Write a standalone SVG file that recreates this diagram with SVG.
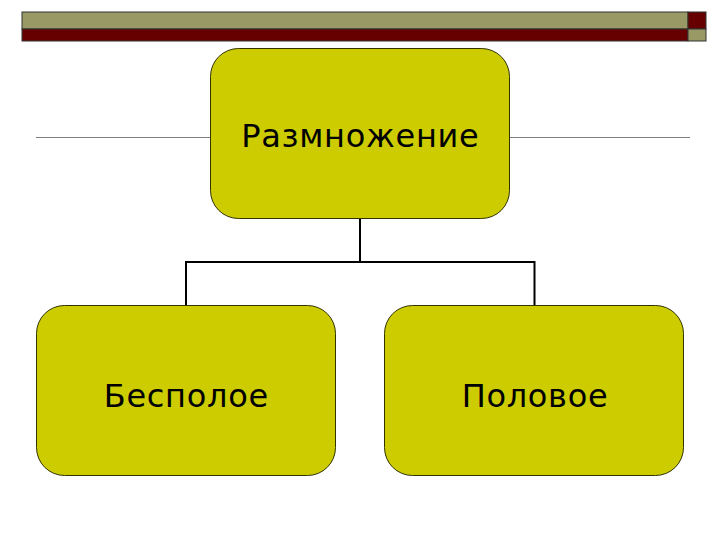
<svg xmlns="http://www.w3.org/2000/svg" width="720" height="540" viewBox="0 0 720 540">
<style>
.node{fill:#cccc00;stroke:#333300;stroke-width:1}
.lbl{font-family:"DejaVu Sans",sans-serif;font-size:32px;letter-spacing:0.7px;fill:#000;text-anchor:middle}
.conn{fill:none;stroke:#000;stroke-width:2}
.rule{stroke:#808080;stroke-width:1}
</style>
<rect width="720" height="540" fill="#fff"/>
<g id="header">
<rect x="22" y="12" width="666" height="17" fill="#999966" stroke="#333" stroke-width="1"/>
<rect x="22" y="29" width="666" height="12" fill="#660000" stroke="#333" stroke-width="1"/>
<rect x="688" y="12" width="18" height="17" fill="#660000" stroke="#333" stroke-width="1"/>
<rect x="688" y="29" width="18" height="12" fill="#999966" stroke="#333" stroke-width="1"/>
</g>
<g id="rules">
<line class="rule" x1="36" y1="137.5" x2="210" y2="137.5"/>
<line class="rule" x1="510" y1="137.5" x2="690" y2="137.5"/>
</g>
<g id="connectors">
<path class="conn" d="M360 219V262M186 305V262H534.5V305"/>
</g>
<g id="n-root">
<rect class="node" x="210.5" y="48.5" width="299" height="170" rx="28"/>
<text class="lbl" x="360.3" y="147">Размножение</text>
</g>
<g id="n-asexual">
<rect class="node" x="36.5" y="305.5" width="299" height="170" rx="28"/>
<text class="lbl" x="186.3" y="407">Бесполое</text>
</g>
<g id="n-sexual">
<rect class="node" x="384.5" y="305.5" width="299" height="170" rx="28"/>
<text class="lbl" x="535" y="407">Половое</text>
</g>
</svg>
